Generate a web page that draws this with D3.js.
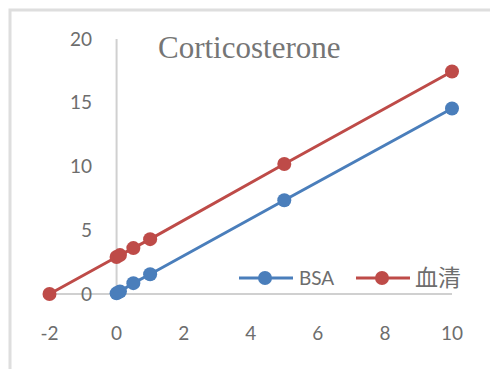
<!DOCTYPE html>
<html>
<head>
<meta charset="utf-8">
<script src="https://cdn.jsdelivr.net/npm/d3@7"></script>
<style>
  body { margin: 0; background: #fff; }
  svg { display: block; }
</style>
</head>
<body>
<div id="chart"></div>
<script>
// data
const bsaX = [0, 0.1, 0.5, 1, 5, 10];
const bsaY = [0.05, 0.2, 0.85, 1.55, 7.35, 14.55];
const serumX = [-2, 0, 0.1, 0.5, 1, 5, 10];
const serumY = [0, 2.9, 3.05, 3.6, 4.3, 10.2, 17.45];
const xTicks = [-2, 0, 2, 4, 6, 8, 10];
const yTicks = [0, 5, 10, 15, 20];
const seriesNames = ["BSA", "血清"];
const colors = ["#4a7ebb", "#be4b48"];

const W = 490, H = 369;
const svg = d3.select("#chart").append("svg")
  .attr("width", W).attr("height", H);

// outer frame (only left and top edges are visible)
svg.append("path")
  .attr("d", "M10,369 V10 H490")
  .attr("fill", "none")
  .attr("stroke", "#dedede")
  .attr("stroke-width", 3);

const x = d3.scaleLinear().domain([-2, 10]).range([49.5, 452]);
const y = d3.scaleLinear().domain([0, 20]).range([294, 39]);

const labelColor = "#6d6d6d";

// axis lines through zero
svg.append("line")
  .attr("x1", x(-2)).attr("x2", x(10))
  .attr("y1", y(0)).attr("y2", y(0))
  .attr("stroke", "#d0d0d0").attr("stroke-width", 2);
svg.append("line")
  .attr("x1", x(0)).attr("x2", x(0))
  .attr("y1", y(0)).attr("y2", y(20))
  .attr("stroke", "#d0d0d0").attr("stroke-width", 2);

// tick labels
svg.selectAll(".ylab")
  .data(yTicks)
  .enter().append("text")
  .attr("class", "ylab")
  .attr("x", 92)
  .attr("y", d => y(d))
  .attr("dy", "0.35em")
  .attr("text-anchor", "end")
  .style("font-family", "Lato, 'Open Sans', sans-serif")
  .style("font-size", "19px")
  .style("fill", labelColor)
  .text(d => d);

svg.selectAll(".xlab")
  .data(xTicks)
  .enter().append("text")
  .attr("class", "xlab")
  .attr("x", d => x(d))
  .attr("y", 333)
  .attr("dy", "0.35em")
  .attr("text-anchor", "middle")
  .style("font-family", "Lato, 'Open Sans', sans-serif")
  .style("font-size", "19px")
  .style("fill", labelColor)
  .text(d => d);

// title
svg.append("text")
  .attr("x", 158)
  .attr("y", 58)
  .style("font-family", "'Liberation Serif', 'Times New Roman', serif")
  .style("font-size", "31px")
  .style("fill", "#757575")
  .text("Corticosterone");

// series
const series = [
  { name: seriesNames[0], pts: bsaX.map((v, i) => [v, bsaY[i]]), color: colors[0] },
  { name: seriesNames[1], pts: serumX.map((v, i) => [v, serumY[i]]), color: colors[1] }
];

const line = d3.line().x(d => x(d[0])).y(d => y(d[1]));

series.forEach(s => {
  svg.append("path")
    .datum(s.pts)
    .attr("d", line)
    .attr("fill", "none")
    .attr("stroke", s.color)
    .attr("stroke-width", 3);
  svg.selectAll(null)
    .data(s.pts)
    .enter().append("circle")
    .attr("cx", d => x(d[0]))
    .attr("cy", d => y(d[1]))
    .attr("r", 7)
    .attr("fill", s.color);
});

// legend
const legendPos = [{ x0: 239, tx: 299 }, { x0: 356, tx: 415 }];
const ly = 278;
series.forEach((s, i) => {
  const p = legendPos[i];
  svg.append("line")
    .attr("x1", p.x0).attr("x2", p.x0 + 54)
    .attr("y1", ly).attr("y2", ly)
    .attr("stroke", s.color).attr("stroke-width", 3);
  svg.append("circle")
    .attr("cx", p.x0 + 26).attr("cy", ly).attr("r", 7)
    .attr("fill", s.color);
  svg.append("text")
    .attr("x", p.tx)
    .attr("y", ly)
    .attr("dy", "0.36em")
    .style("font-family", i === 0 ? "Lato, sans-serif" : "'Noto Sans CJK SC', sans-serif")
    .style("font-size", i === 0 ? "19px" : "23px")
    .style("fill", labelColor)
    .text(s.name);
});
</script>
</body>
</html>
